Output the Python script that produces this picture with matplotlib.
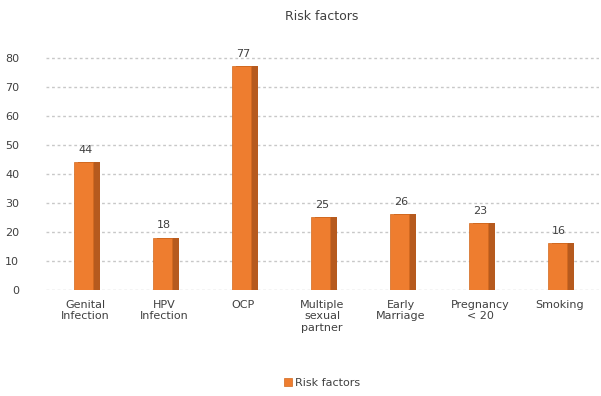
import matplotlib
matplotlib.use('Agg')
import numpy as np
import matplotlib.pyplot as plt

categories = ['Genital\nInfection', 'HPV\nInfection', 'OCP', 'Multiple\nsexual\npartner',
              'Early\nMarriage', 'Pregnancy\n< 20', 'Smoking']
values = [44, 18, 77, 25, 26, 23, 16]
yticks = [0, 10, 20, 30, 40, 50, 60, 70, 80]

fig = plt.figure(figsize=(6.01, 3.96), dpi=100)
ax = fig.add_axes([0.076, 0.268, 0.92, 0.601])

x = np.arange(len(categories))
# front face and a darker side face to fake the 3D look
ax.bar(x + 0.05, values, width=0.28, color='#B65A1E', zorder=2)
bars = ax.bar(x - 0.02, values, width=0.24, color='#EE7D2F', edgecolor='#D2691E', linewidth=0.5, zorder=3)

for xi, v in zip(x, values):
    ax.text(xi, v + 2.5, str(v), ha='center', va='bottom', fontsize=8, color='#404040')

ax.set_xlim(-0.5, 6.5)
ax.set_ylim(0, 82)
ax.set_yticks(yticks)
ax.set_xticks(x)
ax.set_xticklabels(categories, fontsize=8, color='#404040')
ax.tick_params(axis='y', labelsize=8, labelcolor='#404040', length=0, pad=19)
ax.tick_params(axis='x', length=0, pad=7)
ax.yaxis.grid(True, linestyle=(0, (2, 2)), color='#C8C8C8', linewidth=1)
ax.set_axisbelow(True)
for s in ax.spines.values():
    s.set_visible(False)

ax.set_title('Risk factors', fontsize=9, color='#404040', pad=23)
ax.legend([bars], ['Risk factors'], loc='center', bbox_to_anchor=(0.5, -0.39),
          frameon=False, fontsize=8, handlelength=0.7, handleheight=0.7, handletextpad=0.3,
          labelcolor='#404040')

fig.savefig('out.png', dpi=100)
